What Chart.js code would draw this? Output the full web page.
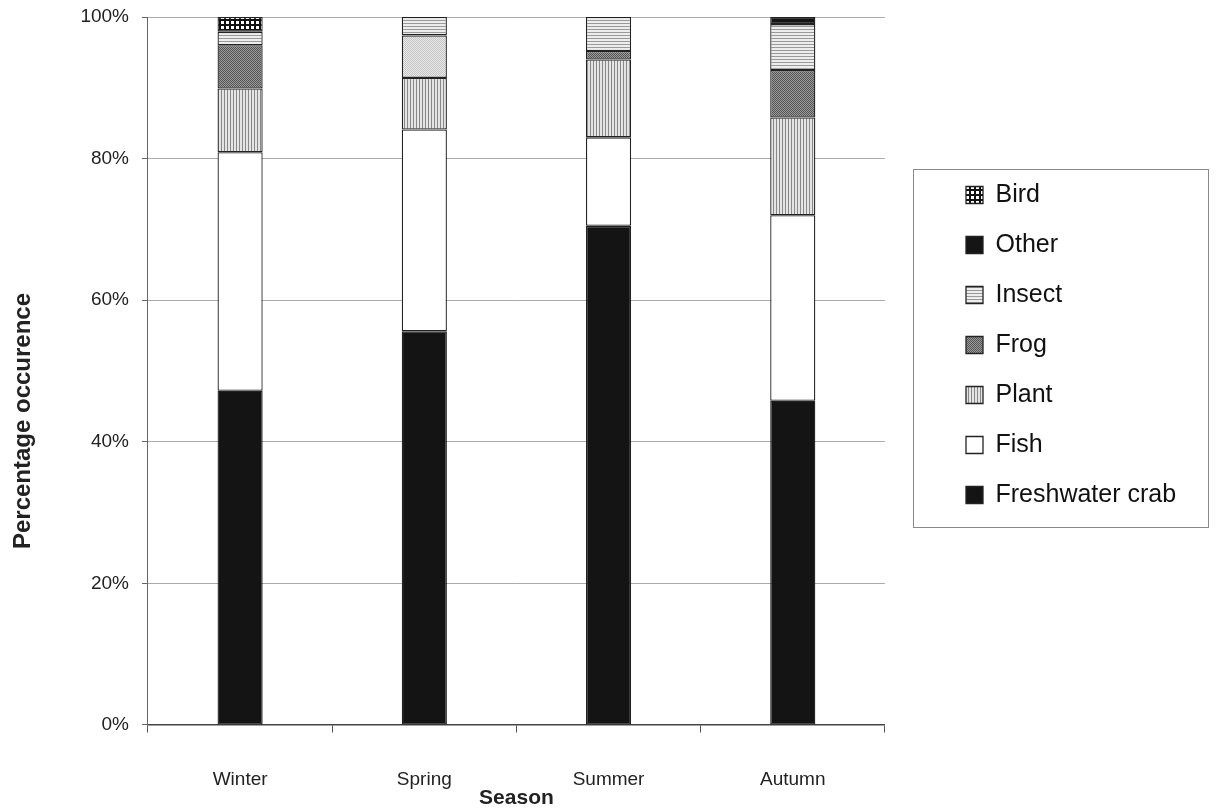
<!DOCTYPE html>
<html>
<head>
<meta charset="utf-8">
<script src="https://cdn.jsdelivr.net/npm/chart.js"></script>
<style>
  html, body { margin: 0; padding: 0; background: #fff; }
  #wrap { width: 1217px; height: 809px; }
</style>
</head>
<body>
<div id="wrap"><canvas id="dietChart" width="1217" height="809"></canvas></div>
<script>
// datos (porcentaje de ocurrencia por estacion)
const seasons = ['Winter', 'Spring', 'Summer', 'Autumn'];
const crab   = [47.2, 55.6, 70.5, 45.8];
const fish   = [33.7, 28.5, 12.5, 26.2];
const plant  = [9.0, 7.3, 11.0, 13.8];
const frog   = [6.1, 6.0, 1.2, 6.7];
const insect = [1.9, 2.6, 4.8, 6.5];
const other  = [0, 0, 0, 1.0];
const bird   = [2.1, 0, 0, 0];
const yTicks = [0, 20, 40, 60, 80, 100];
const yTitle = 'Percentage occurence';

// patrones de relleno tipo Excel en blanco y negro
function makePattern(w, h, draw) {
    const c = document.createElement('canvas');
    c.width = w;
    c.height = h;
    const g = c.getContext('2d');
    draw(g);
    return g.createPattern(c, 'repeat');
}

const birdFill = makePattern(5, 5, g => {
    g.fillStyle = '#111'; g.fillRect(0, 0, 5, 5);
    g.fillStyle = '#fff'; g.fillRect(1, 1, 3, 3);
});
const insectFill = makePattern(1, 3, g => {
    g.fillStyle = '#ededed'; g.fillRect(0, 0, 1, 3);
    g.fillStyle = '#999'; g.fillRect(0, 2, 1, 1);
});
const frogDark = makePattern(2, 2, g => {
    g.fillStyle = '#9a9a9a'; g.fillRect(0, 0, 2, 2);
    g.fillStyle = '#555'; g.fillRect(0, 0, 1, 1); g.fillRect(1, 1, 1, 1);
});
const frogLight = makePattern(2, 2, g => {
    g.fillStyle = '#e8e8e8'; g.fillRect(0, 0, 2, 2);
    g.fillStyle = '#c4c4c4'; g.fillRect(0, 0, 1, 1); g.fillRect(1, 1, 1, 1);
});
const plantFill = makePattern(3, 1, g => {
    g.fillStyle = '#e4e4e4'; g.fillRect(0, 0, 3, 1);
    g.fillStyle = '#888'; g.fillRect(2, 0, 1, 1);
});

const font = 'Liberation Sans, Arial, sans-serif';

function ds(label, data, fill) {
    return {
        label: label,
        data: data,
        backgroundColor: fill,
        borderColor: '#222',
        borderWidth: 1.3,
        borderSkipped: false,
        barPercentage: 0.49,
        categoryPercentage: 0.5
    };
}

// caja alrededor de la leyenda, leyenda movida, y titulo del eje Y
const extras = {
    id: 'extras',
    afterLayout(chart) {
        const lg = chart.legend;
        const w = lg.width, h = lg.height;
        lg.left = 941; lg.right = 941 + w;
        lg.top = 157.5; lg.bottom = 157.5 + h;
    },
    afterDraw(chart) {
        const ctx = chart.ctx;
        ctx.save();
        ctx.strokeStyle = '#888';
        ctx.lineWidth = 1;
        ctx.strokeRect(913.5, 169.5, 295, 358);
        // titulo vertical
        ctx.translate(23, 421);
        ctx.rotate(-Math.PI / 2);
        ctx.fillStyle = '#222';
        ctx.font = 'bold 24px ' + font;
        ctx.textAlign = 'center';
        ctx.textBaseline = 'middle';
        ctx.fillText(yTitle, 0, 0);
        ctx.restore();
    }
};

const ctx = document.getElementById('dietChart').getContext('2d');
new Chart(ctx, {
    type: 'bar',
    data: {
        labels: seasons,
        datasets: [
            ds('Freshwater crab', crab, '#141414'),
            ds('Fish', fish, '#fff'),
            ds('Plant', plant, plantFill),
            ds('Frog', frog, c => (c.dataIndex === 1 ? frogLight : frogDark)),
            ds('Insect', insect, insectFill),
            ds('Other', other, '#151515'),
            ds('Bird', bird, birdFill)
        ]
    },
    options: {
        responsive: false,
        animation: false,
        devicePixelRatio: 1,
        layout: { padding: { top: 17, right: 87, bottom: 0, left: 67.4 } },
        plugins: {
            tooltip: { enabled: false },
            legend: {
                position: 'right',
                align: 'start',
                fullSize: false,
                reverse: true,
                labels: {
                    boxWidth: 17,
                    boxHeight: 17,
                    padding: 25,
                    color: '#111',
                    font: { family: font, size: 25 }
                }
            }
        },
        scales: {
            x: {
                stacked: true,
                grid: {
                    display: true,
                    drawOnChartArea: false,
                    offset: true,
                    tickLength: 41,
                    tickColor: '#555',
                    tickBorderDash: [7, 200]
                },
                border: { color: '#444', width: 1.5 },
                ticks: {
                    color: '#222',
                    padding: 2,
                    font: { family: font, size: 19 }
                },
                title: {
                    display: true,
                    text: 'Season',
                    color: '#222',
                    padding: { top: 0, bottom: 5.75 },
                    font: { family: font, size: 21, weight: 'bold', lineHeight: 0.5 }
                }
            },
            y: {
                stacked: true,
                min: 0,
                max: 100,
                afterBuildTicks: axis => { axis.ticks = yTicks.map(v => ({ value: v })); },
                grid: {
                    color: '#aaa',
                    lineWidth: 1,
                    tickLength: 6,
                    tickColor: '#666'
                },
                border: { color: '#666', width: 1 },
                ticks: {
                    color: '#222',
                    padding: 13,
                    font: { family: font, size: 19, lineHeight: 0.3 },
                    callback: v => v + '%'
                }
            }
        }
    },
    plugins: [extras]
});
</script>
</body>
</html>
